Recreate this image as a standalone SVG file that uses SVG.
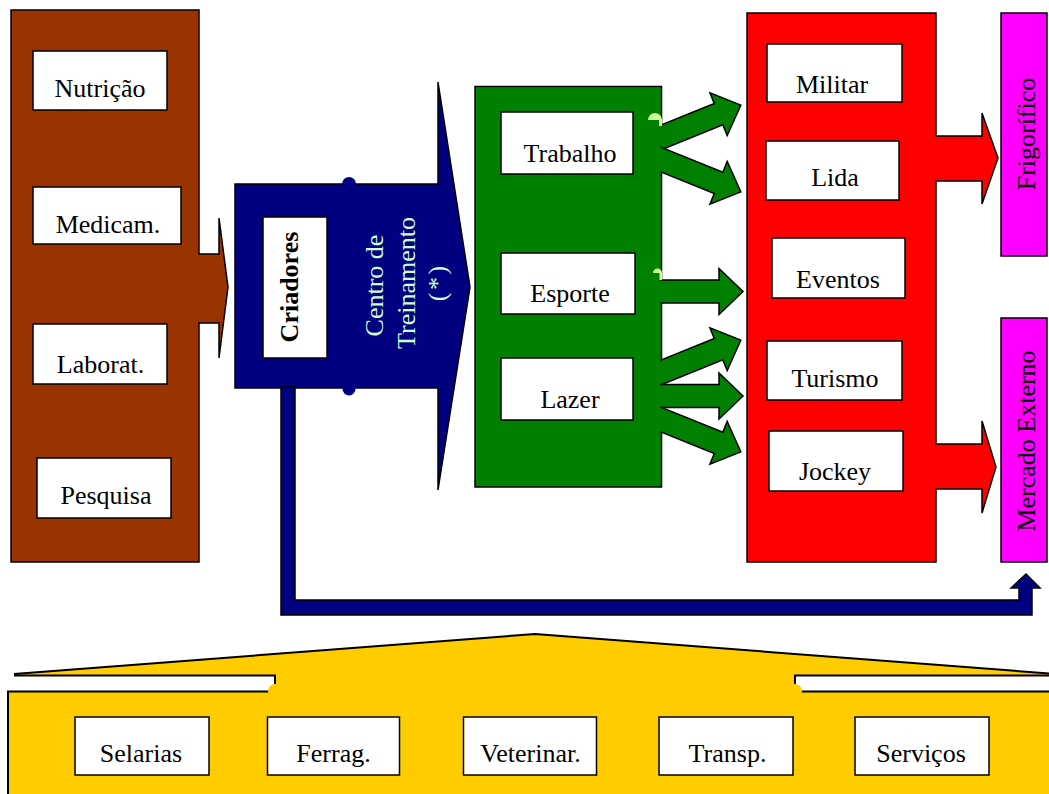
<svg xmlns="http://www.w3.org/2000/svg" width="1049" height="794" viewBox="0 0 1049 794">
<style>
.t{font-family:"Liberation Serif","Times New Roman",serif;font-size:26px;text-anchor:middle;fill:#000}
.box{fill:#fff;stroke:#000;stroke-width:1.5}
.ol{stroke:#000;stroke-width:1.5}
.lt{fill:#ccffcc}
</style>
<defs>
<polygon id="garrow" points="-12,-11.5 61,-11.5 61,-23 85,0 61,23 61,11.5 -12,11.5" fill="#008000" stroke="#000" stroke-width="1.5"/>
</defs>
<rect width="1049" height="794" fill="#fff"/>

<g id="suppliers">
<rect x="11" y="10" width="188" height="552" fill="#993300" class="ol"/>
<polygon points="190,254 219,254 219,218 228,287 219,358 219,323 190,323" fill="#993300" class="ol"/>
<rect x="12" y="11" width="186.2" height="550" fill="#993300"/>
<g id="n-nutricao"><rect class="box" x="33" y="51" width="134" height="59"/><text class="t" x="100" y="97">Nutrição</text></g>
<g id="n-medicam"><rect class="box" x="33" y="187" width="148" height="57"/><text class="t" x="108" y="233">Medicam.</text></g>
<g id="n-laborat"><rect class="box" x="33" y="324" width="134" height="60"/><text class="t" x="100.5" y="373">Laborat.</text></g>
<g id="n-pesquisa"><rect class="box" x="37" y="458" width="134" height="60"/><text class="t" x="106" y="504">Pesquisa</text></g>
</g>

<g id="training">
<path d="M235,184 L438,184 L438,82 L470,287 L438,490 L438,388 L235,388 Z" fill="#000080" class="ol"/>
<circle cx="349" cy="184" r="7" fill="#000080"/>
<circle cx="349" cy="389" r="6.5" fill="#000080"/>
<g id="n-criadores"><rect class="box" x="263" y="217" width="64" height="141"/><text class="t" font-weight="bold" transform="rotate(-90 298 287)" x="298" y="287">Criadores</text></g>
<g id="n-centro">
<text class="t lt" transform="rotate(-90 383 285.5)" x="383" y="285.5">Centro de</text>
<text class="t lt" transform="rotate(-90 415 283)" x="415" y="283">Treinamento</text>
<text class="t lt" transform="rotate(-90 446 283.5)" x="446" y="283.5" word-spacing="-4">( * )</text>
</g>
</g>

<g id="connectors">
<polygon points="281,387 295,387 295,600 1019,600 1019,588 1011,588 1026,574 1040,588 1032,588 1032,615 281,615" fill="#000080" class="ol"/>
</g>

<g id="activities">
<rect x="475" y="86.5" width="186.5" height="400.5" fill="#008000" class="ol"/>
<use href="#garrow" transform="translate(662 137) rotate(-22)"/>
<use href="#garrow" transform="translate(662 160) rotate(22)"/>
<use href="#garrow" transform="translate(658 291.5)"/>
<use href="#garrow" transform="translate(662 372) rotate(-22)"/>
<use href="#garrow" transform="translate(658 396)"/>
<use href="#garrow" transform="translate(662 420) rotate(22)"/>
<rect x="476" y="87.5" width="184.3" height="398.5" fill="#008000"/>
<path d="M648,120 A7,7 0 0 1 662,120 L662,126 L659,126 L659,120 Z" fill="#ccff99"/>
<path d="M653,273 A4.5,4.5 0 0 1 662,273 L662,280 L659.5,280 L659.5,273 Z" fill="#ccff99"/>
<g id="n-trabalho"><rect class="box" x="501" y="112" width="132" height="62"/><text class="t" x="570" y="162">Trabalho</text></g>
<g id="n-esporte"><rect class="box" x="501" y="253" width="134" height="61"/><text class="t" x="570" y="302">Esporte</text></g>
<g id="n-lazer"><rect class="box" x="501" y="358" width="132" height="62"/><text class="t" x="570" y="408">Lazer</text></g>
</g>

<g id="uses">
<rect x="747" y="13" width="189" height="549" fill="#ff0000" class="ol"/>
<polygon points="930,136 982,136 982,113 998,158 982,204 982,181 930,181" fill="#ff0000" class="ol"/>
<polygon points="930,444 982,444 982,421 996,467 982,513 982,489 930,489" fill="#ff0000" class="ol"/>
<rect x="748" y="14" width="187.2" height="547" fill="#ff0000"/>
<g id="n-militar"><rect class="box" x="767" y="44" width="135" height="58"/><text class="t" x="832" y="93">Militar</text></g>
<g id="n-lida"><rect class="box" x="766" y="141" width="133" height="59"/><text class="t" x="835" y="186">Lida</text></g>
<g id="n-eventos"><rect class="box" x="772" y="238" width="133" height="60"/><text class="t" x="838" y="288">Eventos</text></g>
<g id="n-turismo"><rect class="box" x="767" y="341" width="135" height="59"/><text class="t" x="835" y="387">Turismo</text></g>
<g id="n-jockey"><rect class="box" x="769" y="431" width="134" height="60"/><text class="t" x="835" y="480">Jockey</text></g>
</g>

<g id="n-frigorifico">
<rect x="1001" y="13" width="46" height="243" fill="#ff00ff" class="ol"/>
<text class="t" transform="rotate(-90 1035 134)" x="1035" y="134">Frigorífico</text>
</g>
<g id="n-mercado">
<rect x="1001" y="318" width="46" height="244" fill="#ff00ff" class="ol"/>
<text class="t" transform="rotate(-90 1035 441)" x="1035" y="441">Mercado Externo</text>
</g>

<g id="support">
<rect x="8" y="691.5" width="1050" height="110" fill="#ffcc00" stroke="#000" stroke-width="2"/>
<path d="M14,674 L535,634 L1056,674 L1056,676 L795,676 L795,693 L275,693 L275,676 L14,676 Z" fill="#ffcc00"/>
<path d="M14,674 L535,634 L1056,674" fill="none" stroke="#000" stroke-width="2"/>
<path d="M14,675.5 L275,675.5 L275,684" fill="none" stroke="#000" stroke-width="2"/>
<path d="M1056,675.5 L795,675.5 L795,684" fill="none" stroke="#000" stroke-width="2"/>
<circle cx="275" cy="691" r="7" fill="#ffcc00"/>
<circle cx="795" cy="691" r="7" fill="#ffcc00"/>
<g id="n-selarias"><rect class="box" x="75" y="717" width="134" height="58"/><text class="t" x="141" y="762">Selarias</text></g>
<g id="n-ferrag"><rect class="box" x="267.5" y="717" width="132" height="58"/><text class="t" x="333.5" y="762">Ferrag.</text></g>
<g id="n-veterinar"><rect class="box" x="463.5" y="717" width="133" height="58"/><text class="t" x="530.5" y="762">Veterinar.</text></g>
<g id="n-transp"><rect class="box" x="659" y="717" width="134" height="58"/><text class="t" x="727.5" y="762">Transp.</text></g>
<g id="n-servicos"><rect class="box" x="855" y="717" width="134" height="58"/><text class="t" x="921" y="762">Serviços</text></g>
</g>
</svg>
